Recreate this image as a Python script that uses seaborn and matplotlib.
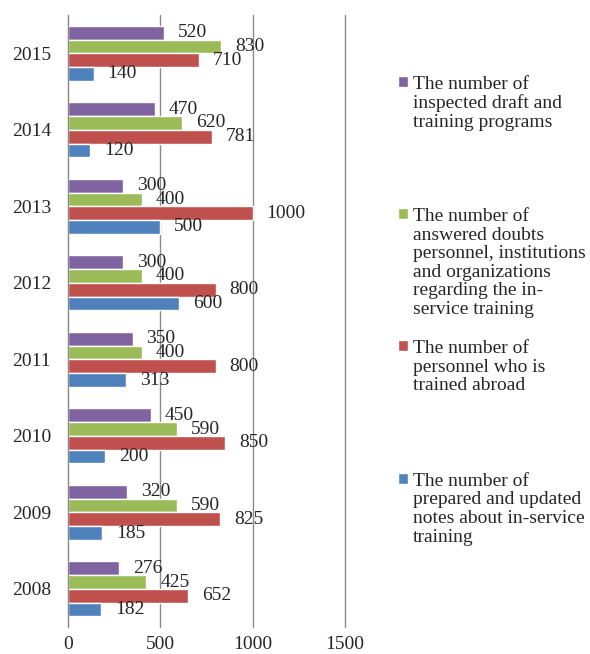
import pandas as pd
import matplotlib.pyplot as plt
import seaborn as sns

years = ['2015', '2014', '2013', '2012', '2011', '2010', '2009', '2008']
inspected = [520, 470, 300, 300, 350, 450, 320, 276]
answered = [830, 620, 400, 400, 400, 590, 590, 425]
abroad = [710, 781, 1000, 800, 800, 850, 825, 652]
notes = [140, 120, 500, 600, 313, 200, 185, 182]

series_names = [
    'The number of\ninspected draft and\ntraining programs',
    'The number of\nanswered doubts\npersonnel, institutions\nand organizations\nregarding the in-\nservice training',
    'The number of\npersonnel who is\ntrained abroad',
    'The number of\nprepared and updated\nnotes about in-service\ntraining',
]
colors = ['#8064A2', '#9BBB59', '#C0504D', '#4F81BD']

rows = []
for name, vals in zip(series_names, [inspected, answered, abroad, notes]):
    for y, v in zip(years, vals):
        rows.append({'Year': y, 'Series': name, 'Value': v})
df = pd.DataFrame(rows)

sns.set_style('white')
plt.rcParams['font.family'] = ['Liberation Serif', 'DejaVu Serif']
plt.rcParams['font.size'] = 14

fig = plt.figure(figsize=(5.9, 6.54), dpi=100)
ax = fig.add_axes([0.115, 0.041, 0.47, 0.936])

sns.barplot(data=df, y='Year', x='Value', hue='Series', order=years,
            hue_order=series_names, palette=colors, orient='h', saturation=1,
            width=0.72, errorbar=None, ax=ax)

for c in ax.containers:
    ax.bar_label(c, padding=10, fontsize=14)

handles, labels = ax.get_legend_handles_labels()
ax.get_legend().remove()

ax.set_xlim(0, 1500)
ax.set_ylim(len(years) - 0.5, -0.5)
ax.set_xticks([0, 500, 1000, 1500])
ax.set_xlabel('')
ax.set_ylabel('')
ax.grid(axis='x', color='#8a8a8a', linewidth=1.0)
for gl in ax.get_xgridlines():
    gl.set_clip_on(False)
ax.set_axisbelow(True)
for s in ['top', 'right', 'bottom']:
    ax.spines[s].set_visible(False)
ax.spines['left'].set_color('#8a8a8a')
ax.tick_params(axis='x', length=0, pad=6, labelsize=14)
ax.tick_params(axis='y', which='major', length=0, pad=12, labelsize=14)
ax.set_yticks([i - 0.5 for i in range(len(years) + 1)], minor=True)
ax.tick_params(axis='y', which='minor', length=5, color='#8a8a8a', direction='out')

# Excel-style legend: one entry per block, marker aligned with the first line
legend_tops = [0.884, 0.682, 0.480, 0.277]
for h, l, top in zip(handles, labels, legend_tops):
    leg = fig.legend([h], [l], loc='upper left', bbox_to_anchor=(0.6746, top),
                     frameon=False, handlelength=0.5, handleheight=0.5,
                     handletextpad=0.25, borderaxespad=0, borderpad=0,
                     fontsize=14, labelspacing=0)
    for t in leg.get_texts():
        t.set_linespacing(1.12)
    leg._legend_handle_box.get_children()[0].get_children()[0].align = 'top'

fig.savefig('out.png', dpi=100)
